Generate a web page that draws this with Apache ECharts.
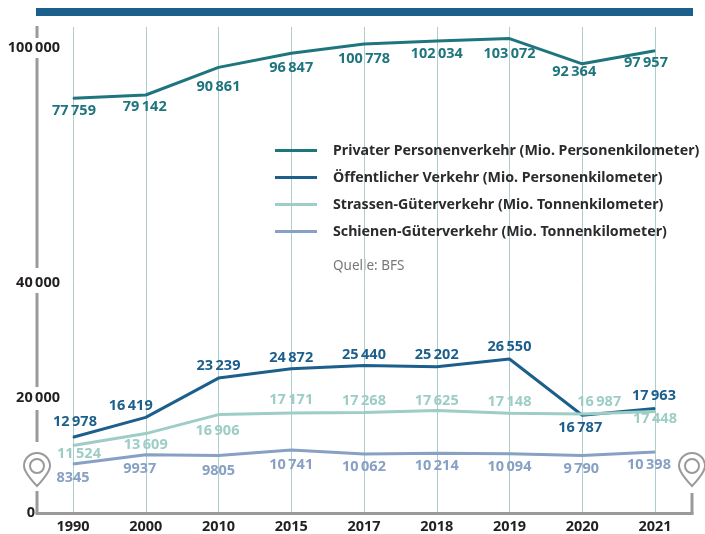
<!DOCTYPE html>
<html><head><meta charset="utf-8">
<style>html,body{margin:0;padding:0;background:#fff}#c{width:705px;height:534px}</style>
<script src="https://cdn.jsdelivr.net/npm/echarts@6/dist/echarts.min.js"></script>
</head><body><div id="c"></div>
<script>
const years = ['1990','2000','2010','2015','2017','2018','2019','2020','2021'];
const privateTravel = [77759,79142,90861,96847,100778,102034,103072,92364,97957];
const publicTravel = [12978,16419,23239,24872,25440,25202,26550,16787,17963];
const roadFreight = [11524,13609,16906,17171,17268,17625,17148,16987,17448];
const railFreight = [8345,9937,9805,10741,10062,10214,10094,9790,10398];
const upperTicks = [100000];
const lowerTicks = [0,20000,40000];
const privateName = 'Privater Personenverkehr (Mio. Personenkilometer)';
const publicName = 'Öffentlicher Verkehr (Mio. Personenkilometer)';
const roadName = 'Strassen-Güterverkehr (Mio. Tonnenkilometer)';
const railName = 'Schienen-Güterverkehr (Mio. Tonnenkilometer)';
const sourceNote = 'Quelle: BFS';

const FONT = 'Noto Sans';
const privateOffsets = [[1,13],[-1,12],[0,19],[0,15],[0,15],[0,13],[0,15],[-8,8],[-9,12]];
const publicOffsets = [[2,-15],[-15,-12],[0,-12],[0,-11],[0,-11],[0,-12],[0,-12],[-2,13],[-1,-13]];
const roadOffsets = [[6,8],[0,11],[-1,16],[0,-13],[0,-12],[0,-10],[0,-11],[17,-12],[0,7]];
const railOffsets = [[0,14],[-6,14],[0,15],[0,15],[0,13],[0,13],[0,13],[-1,13],[-6,13]];
const spacedFourDigit = [9790];

const fmt = v => (v >= 10000 || spacedFourDigit.includes(v))
  ? String(v).replace(/(\d{3})$/, '\u2009$1') : String(v);

function series(name, values, color, offsets, gridIndex) {
  return {
    name, type:'line', xAxisIndex:gridIndex, yAxisIndex:gridIndex,
    symbol:'circle', symbolSize:1, showSymbol:true, animation:false,
    lineStyle:{color, width:3}, itemStyle:{color},
    emphasis:{disabled:true},
    data: values.map((v,i)=>({value:v,
      label:{show:true, position:'inside', offset:offsets[i], color,
             fontFamily:FONT, fontWeight:700, fontSize:14.5, formatter:()=>fmt(v)}}))
  };
}
const axisColor = '#9a9a9d';
const seg = (x1,y1,x2,y2) => ({type:'line', silent:true, z:5,
  shape:{x1,y1,x2,y2}, style:{stroke:axisColor, lineWidth:3}});
const PIN = 'M14 34 C14 34 1 21 1 14 A13 13 0 1 1 27 14 C27 21 14 34 14 34 Z M21 14 A7 7 0 1 1 7 14 A7 7 0 1 1 21 14 Z';
echarts.graphic.registerShape('pin', echarts.graphic.extendPath(PIN, {}));
const pin = cx => ({type:'pin', silent:true, z:6, x:cx-14, y:452,
  style:{fill:'none', stroke:axisColor, lineWidth:2}});
const yAxisCommon = (ticks, shift) => ({
  type:'value', position:'left', offset:36,
  axisLine:{show:false}, axisTick:{show:false}, splitLine:{show:false},
  axisLabel:{color:'#231f20', fontFamily:FONT, fontWeight:700, fontSize:14.5, margin:-23,
    verticalAlign:'top', lineHeight:shift*2, customValues:ticks,
    formatter:v=> v===0 ? '0\u2007\u2007\u2007' : fmt(v)}
});
const xAxisCommon = {type:'category', data:years, boundaryGap:false,
  axisLine:{show:false}, axisTick:{show:false},
  splitLine:{show:true, lineStyle:{color:'#aacfcd', width:1}}};

const chart = echarts.init(document.getElementById('c'), null, {renderer:'canvas'});
chart.setOption({
  animation:false,
  backgroundColor:'#fff',
  grid:[
    {left:73, right:50, top:27, height:254.5},
    {left:73, right:50, top:281.5, height:232}
  ],
  xAxis:[
    Object.assign({gridIndex:0, axisLabel:{show:false}}, xAxisCommon),
    Object.assign({gridIndex:1, axisLabel:{color:'#231f20', fontFamily:FONT, fontWeight:700, fontSize:14.5, margin:7, hideOverlap:false, interval:0}}, xAxisCommon)
  ],
  yAxis:[
    Object.assign(yAxisCommon(upperTicks, 2.5), {gridIndex:0, min:0, max:108000}),
    Object.assign(yAxisCommon(lowerTicks, 1), {gridIndex:1, min:0, max:40000})
  ],
  legend:{
    left:275, top:142, padding:0, orient:'vertical', icon:'rect', itemWidth:42, itemHeight:3, itemGap:10,
    selectedMode:false,
    textStyle:{color:'#2b2b2e', fontFamily:FONT, fontWeight:700, fontSize:14.2, lineHeight:17, padding:[0,0,0,11]},
    data:[privateName,publicName,roadName,railName]
  },
  series:[
    series(privateName, privateTravel, '#1f757d', privateOffsets, 0),
    series(railName, railFreight, '#87a0c4', railOffsets, 1),
    series(publicName, publicTravel, '#1c5f8c', publicOffsets, 1),
    series(roadName, roadFreight, '#9dcdc5', roadOffsets, 1)
  ],
  graphic:[
    {type:'rect', silent:true, shape:{x:36,y:8,width:657,height:8}, style:{fill:'#1c5f8c'}},
    seg(37,26,37,38), seg(37,58,37,268), seg(37,293,37,387), seg(37,410,37,442), seg(37,491,37,513.5),
    seg(35.5,513.5,693.5,513.5), seg(692,493,692,513.5),
    pin(37), pin(692),
    {type:'text', silent:true, style:{x:333, y:266, text:sourceNote, fill:'#77777a',
      font:'400 13.5px '+FONT, verticalAlign:'middle'}}
  ]
});
</script></body></html>
